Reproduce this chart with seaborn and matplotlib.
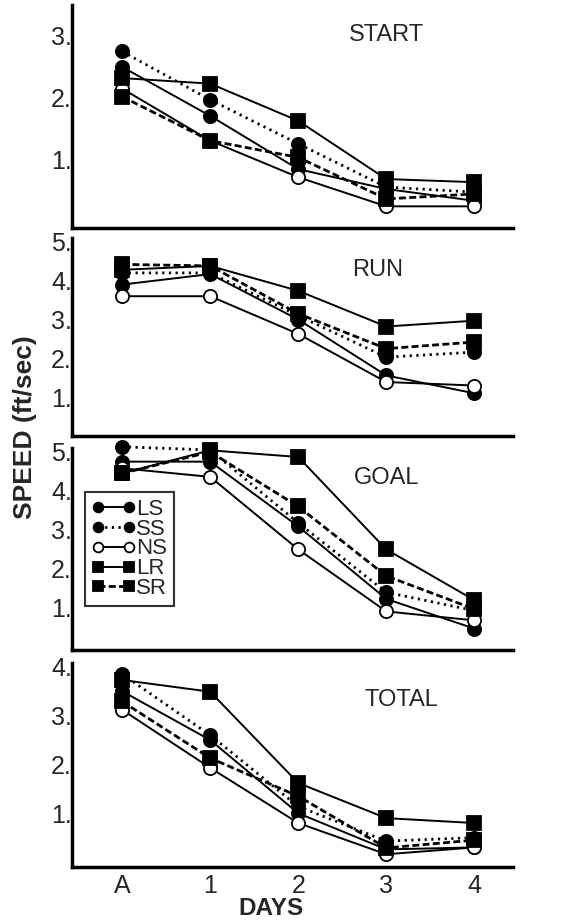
import numpy as np
import pandas as pd
import matplotlib
matplotlib.use("Agg")
import matplotlib.pyplot as plt
import seaborn as sns

sns.set_style("white")
plt.rcParams['font.family'] = ['Liberation Sans', 'DejaVu Sans']

DAYS = ['A', '1', '2', '3', '4']
GROUPS = ['LS', 'SS', 'NS', 'LR', 'SR']

start_LS = [2.50, 1.71, 0.85, 0.53, 0.34]
start_SS = [2.75, 1.97, 1.26, 0.56, 0.48]
start_NS = [2.15, 1.31, 0.72, 0.25, 0.25]
start_LR = [2.32, 2.23, 1.63, 0.69, 0.64]
start_SR = [2.02, 1.31, 1.04, 0.37, 0.45]

run_LS = [3.90, 4.17, 3.00, 1.56, 1.10]
run_SS = [4.20, 4.20, 3.10, 2.03, 2.16]
run_NS = [3.60, 3.60, 2.63, 1.39, 1.30]
run_LR = [4.28, 4.38, 3.74, 2.82, 2.97]
run_SR = [4.42, 4.38, 3.15, 2.25, 2.42]

goal_LS = [4.75, 4.75, 3.09, 1.23, 0.47]
goal_SS = [5.13, 5.05, 3.18, 1.40, 0.93]
goal_NS = [4.58, 4.36, 2.50, 0.91, 0.68]
goal_LR = [4.45, 5.04, 4.87, 2.50, 1.20]
goal_SR = [4.45, 5.00, 3.60, 1.82, 0.97]

total_LS = [3.50, 2.50, 1.00, 0.26, 0.30]
total_SS = [3.85, 2.60, 1.14, 0.43, 0.50]
total_NS = [3.12, 1.93, 0.80, 0.16, 0.30]
total_LR = [3.73, 3.49, 1.62, 0.90, 0.80]
total_SR = [3.29, 2.13, 1.35, 0.29, 0.45]

PANELS = [
    ("START", [start_LS, start_SS, start_NS, start_LR, start_SR], [1, 2, 3], (-0.1, 3.5)),
    ("RUN", [run_LS, run_SS, run_NS, run_LR, run_SR], [1, 2, 3, 4, 5], (0.0, 5.1)),
    ("GOAL", [goal_LS, goal_SS, goal_NS, goal_LR, goal_SR], [1, 2, 3, 4, 5], (-0.08, 5.1)),
    ("TOTAL", [total_LS, total_SS, total_NS, total_LR, total_SR], [1, 2, 3, 4], (-0.1, 4.08)),
]

STYLES = {
    'LS': dict(marker='o', markerfacecolor='black', linestyle='-', linewidth=1.4),
    'SS': dict(marker='o', markerfacecolor='black', linestyle=(0, (0.8, 1.6)), linewidth=2.0),
    'NS': dict(marker='o', markerfacecolor='white', linestyle='-', linewidth=1.4),
    'LR': dict(marker='s', markerfacecolor='black', linestyle='-', linewidth=1.4),
    'SR': dict(marker='s', markerfacecolor='black', linestyle=(0, (2.5, 1.2)), linewidth=2.0),
}

TITLE_POS = [(0.714, 0.865), (0.694, 0.838), (0.714, 0.851), (0.748, 0.819)]

fig = plt.figure(figsize=(5.69, 9.22), dpi=100)
left, width = 72 / 569, 441 / 569
rects = [(0.7527, 0.2419), (0.5271, 0.2148), (0.2950, 0.2191), (0.0597, 0.2213)]

axes = []
for i, ((title, series, yt, ylim), (b, h)) in enumerate(zip(PANELS, rects)):
    ax = fig.add_axes([left, b, width, h])
    axes.append(ax)
    for g, vals in zip(GROUPS, series):
        df = pd.DataFrame({'day': DAYS, 'speed': vals})
        sns.lineplot(data=df, x='day', y='speed', ax=ax, sort=False, errorbar=None,
                     color='black', markersize=9.5, markeredgecolor='black',
                     markeredgewidth=1.3, clip_on=False, label=g, legend=False,
                     **STYLES[g])
    ax.set_xlim(-0.57, 4.44)
    ax.set_ylim(*ylim)
    ax.set_yticks(yt)
    ax.set_yticklabels([f"{v}." for v in yt], fontsize=18)
    ax.set_xlabel('')
    ax.set_ylabel('')
    for s in ['top', 'right']:
        ax.spines[s].set_visible(False)
    for s in ['left', 'bottom']:
        ax.spines[s].set_color('black')
        ax.spines[s].set_linewidth(2.5)
    ax.tick_params(axis='both', direction='in', length=6, width=2.5, color='black', pad=2)
    ax.tick_params(axis='y', pad=0)
    ax.set_xticks(range(len(DAYS)))
    if i < 3:
        ax.set_xticklabels([])
    else:
        ax.set_xticklabels(DAYS, fontsize=18)
        ax.tick_params(axis='x', pad=5)
    ax.text(*TITLE_POS[i], title, transform=ax.transAxes, fontsize=17,
            ha='center', va='center', fontweight='normal')
    ax.patch.set_alpha(0)

leg = axes[2].legend(loc='upper left', bbox_to_anchor=(85 / 569, 1 - 492 / 922),
                     bbox_transform=fig.transFigure, fontsize=16, frameon=True,
                     fancybox=False, edgecolor='black', numpoints=2,
                     handlelength=2.0, handletextpad=0.0, labelspacing=-0.05,
                     borderpad=0.3, borderaxespad=0)
leg.get_frame().set_linewidth(1.5)
for h in leg.legend_handles:
    h.set_markersize(7)

fig.text(0.044, 0.537, "SPEED (ft/sec)", rotation=90, ha='center', va='center',
         fontsize=19, fontweight='bold')
fig.text(0.476, 0.015, "DAYS", ha='center', va='center', fontsize=17.5, fontweight='bold')

fig.savefig("out.png", dpi=100, facecolor='white')
